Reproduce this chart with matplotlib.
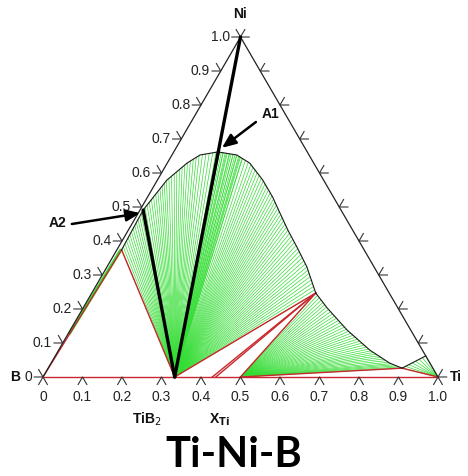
import numpy as np
import matplotlib
matplotlib.use('Agg')
import matplotlib.pyplot as plt
from matplotlib.collections import LineCollection

H = np.sqrt(3) / 2
GREEN = '#33dd33'
RED = '#c8282d'

# compounds on the B-Ti edge (x_Ti)
x_tib2 = 1 / 3
x_ti3b4 = 3 / 7
x_tib = 0.5

# liquidus, TiB2 + L part (x_Ti, x_Ni)
liq1_ti = [0.012, 0.010, 0.008, 0.024, 0.050, 0.071, 0.112, 0.164, 0.209,
           0.267, 0.317, 0.359, 0.404, 0.452, 0.506, 0.567]
liq1_ni = [0.374, 0.430, 0.491, 0.579, 0.629, 0.653, 0.662, 0.653, 0.629,
           0.579, 0.529, 0.482, 0.432, 0.382, 0.324, 0.247]
# liquidus, TiB + L part
liq2_ti = [0.567, 0.618, 0.701, 0.788, 0.857, 0.896]
liq2_ni = [0.247, 0.203, 0.138, 0.079, 0.041, 0.026]
# liquidus, Ti + L part
liq3_ti = [0.896, 0.938]
liq3_ni = [0.026, 0.062]

ticks = np.round(np.arange(0, 1.01, 0.1), 1)
tick_labels = ['0'] + [f'{v:.1f}' for v in ticks[1:]]


def tern(ti, ni):
    ti = np.asarray(ti, dtype=float)
    ni = np.asarray(ni, dtype=float)
    return ti + ni / 2, ni * H


def fan(ax, origin, ti, ni, n, lo=0.0, hi=1.0, lw=0.5):
    x, y = tern(ti, ni)
    d = np.r_[0, np.cumsum(np.hypot(np.diff(x), np.diff(y)))]
    s = np.linspace(lo * d[-1], hi * d[-1], n)
    xs, ys = np.interp(s, d, x), np.interp(s, d, y)
    ox, oy = tern(*origin)
    segs = [[(ox, oy), (a, b)] for a, b in zip(xs, ys)]
    ax.add_collection(LineCollection(segs, colors=GREEN, linewidths=lw, zorder=2))


def seg(ax, p, q, **kw):
    x, y = tern([p[0], q[0]], [p[1], q[1]])
    ax.plot(x, y, **kw)


fig = plt.figure(figsize=(4.68, 4.76), dpi=100)
ax = fig.add_axes([0, 0, 1, 1])
ax.set_xlim(-0.1089, 1.0760)
ax.set_ylim(-0.2522, 0.9603)
ax.axis('off')

# tie lines
fan(ax, (x_tib2, 0), liq1_ti, liq1_ni, 95)
fan(ax, (x_tib2, 0), liq1_ti, liq1_ni, 14, 0.44, 0.52)
fan(ax, (x_tib, 0), liq2_ti, liq2_ni, 40)
fan(ax, (1, 0), liq3_ti, liq3_ni, 8)
seg(ax, (0.003, 0.13), (0.010, 0.372), color=GREEN, lw=2.2, zorder=2)

# liquidus curve
for ti, ni in [(liq1_ti, liq1_ni), (liq2_ti, liq2_ni), (liq3_ti, liq3_ni)]:
    x, y = tern(ti, ni)
    ax.plot(x, y, color='#1a1a1a', lw=0.8, zorder=4)

# three-phase triangles
P = (liq1_ti[-1], liq1_ni[-1])
E = (liq2_ti[-1], liq2_ni[-1])
red = dict(color=RED, lw=1.0, zorder=3)
seg(ax, (0, 0), (liq1_ti[0], liq1_ni[0]), **red)
seg(ax, (x_tib2, 0), (liq1_ti[0], liq1_ni[0]), **red)
seg(ax, (x_tib2, 0), P, **red)
seg(ax, (x_ti3b4, 0), P, **red)
seg(ax, (x_ti3b4 + 0.009, 0), P, **red)
seg(ax, (x_tib, 0), P, **red)
seg(ax, (x_tib, 0), E, **red)
seg(ax, E, (1, 0), **red)

# triangle frame
edge = dict(color='#222222', lw=0.9, zorder=5)
seg(ax, (0, 1), (1, 0), **edge)
seg(ax, (0, 0), (0, 1), **edge)
seg(ax, (0, 0), (1, 0), color=RED, lw=1.0, zorder=5)

# tick marks (two strokes parallel to the other edges) and labels
L = 0.022
tk = dict(color='#333333', lw=0.8, zorder=5)
lab = dict(fontsize=10, color='#222222', family='Liberation Sans')
for v, s in zip(ticks, tick_labels):
    x, y = tern(0, v)
    ax.plot([x - L, x, x - L * 0.5], [y, y, y + L * H], **tk)
    ax.text(x - 0.027, y, s, ha='right', va='center', **lab)
    x, y = tern(1 - v, v)
    ax.plot([x + L, x, x + L * 0.5], [y, y, y + L * H], **tk)
    x, y = tern(v, 0)
    ax.plot([x - L * 0.5, x, x + L * 0.5], [y - L * H, y, y - L * H], **tk)
    ax.text(x, y - 0.05, s, ha='center', va='center', **lab)

# thick joins from TiB2
thick = dict(color='black', lw=2.4, solid_capstyle='round', zorder=6)
seg(ax, (x_tib2, 0), (0, 1), **thick)
seg(ax, (x_tib2, 0), (liq1_ti[2], liq1_ni[2]), **thick)

# arrows
arr = dict(arrowstyle='-|>,head_length=0.6,head_width=0.25', color='black', lw=1.8,
           mutation_scale=14, shrinkA=0, shrinkB=0)
ax.annotate('', xy=tern(0.116, 0.674), xytext=tern(0.164, 0.750), arrowprops=arr, zorder=7)
ax.annotate('', xy=tern(0.005, 0.482), xytext=tern(-0.152, 0.450), arrowprops=arr, zorder=7)
bold = dict(fontsize=10, fontweight='bold', family='Liberation Sans', color='#111111')
ax.text(*tern(0.167, 0.774), 'A1', ha='left', va='center', **bold)
ax.text(*tern(-0.189, 0.453), 'A2', ha='center', va='center', **bold)

# corner and axis labels
ax.text(*tern(-0.07, 0), 'B', ha='center', va='center', **bold)
ax.text(*tern(1.045, 0), 'Ti', ha='center', va='center', **bold)
ax.text(*tern(-0.034, 1.068), 'Ni', ha='center', va='center', **bold)
ax.text(*tern(x_tib2 - 0.008, -0.125), 'TiB$_2$', ha='center', va='center', **bold)
ax.text(*tern(0.51, -0.125), r'X$_{\mathbf{Ti}}$', ha='center', va='center', **bold)

fig.text(0.5, 0.045, 'Ti-Ni-B', ha='center', va='center', fontsize=30,
         fontweight='bold', family='Lato')

fig.savefig('out.png', dpi=100)
